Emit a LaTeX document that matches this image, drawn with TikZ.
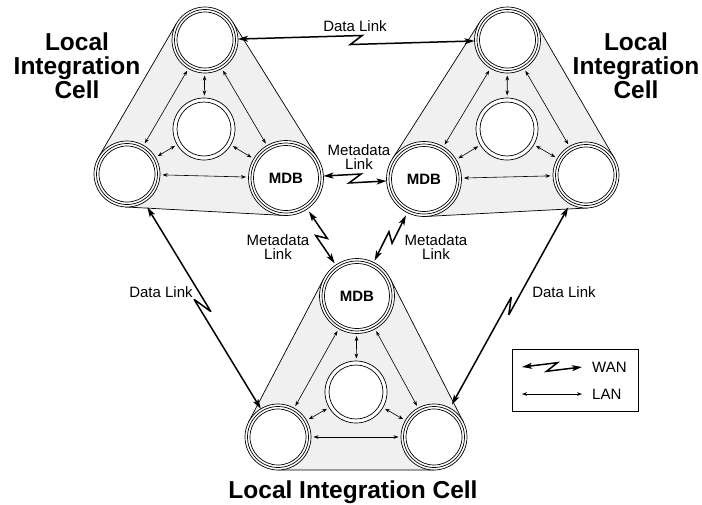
\documentclass[tikz,border=0pt]{standalone}
\usepackage{fontspec}
\setmainfont{Liberation Sans}
\usetikzlibrary{arrows.meta,calc}
\tikzset{
  hullfill/.style={fill=black!6},
  hullline/.style={line width=0.7pt},
  ring/.style={line width=0.7pt},
  nodecirc/.style={circle, inner sep=0pt, outer sep=0pt, font=\fontsize{15}{15}\selectfont\bfseries},
  lan/.style={line width=0.6pt, {Stealth[length=5pt,width=3.6pt]}-{Stealth[length=5pt,width=3.6pt]}, shorten <=2.5pt, shorten >=2.5pt},
  wan/.style={line width=1.5pt, line join=miter, miter limit=4, {Stealth[length=10pt,width=6pt,inset=2.5pt]}-{Stealth[length=10pt,width=6pt,inset=2.5pt]}},
  lbl/.style={font=\fontsize{15}{14}\selectfont, align=center, inner sep=0pt},
  biglbl/.style={font=\fontsize{24.5}{24}\selectfont\bfseries, align=center, inner sep=0pt},
}
% corner node with three rings
\newcommand\cornernode[5]{% name, x, y, outer radius, label
  \draw[ring, fill=white] (#2,#3) circle [radius=#4pt];
  \draw[ring] (#2,#3) circle [radius=#4pt-2.5pt];
  \draw[ring] (#2,#3) circle [radius=#4pt-5pt];
  \node[nodecirc, minimum size=2*#4pt] (#1) at (#2,#3) {#5};
}
% middle node with two rings
\newcommand\midnode[3]{% name, x, y
  \draw[ring, fill=white] (#2,#3) circle [radius=31pt];
  \draw[ring] (#2,#3) circle [radius=27pt];
  \node[nodecirc, minimum size=62pt] (#1) at (#2,#3) {};
}
% outer tangent of two circles (screen coordinates)
\newcommand\hullseg[7]{%
  \pgfmathsetmacro\hdx{#4-#1}%
  \pgfmathsetmacro\hdy{#5-#2}%
  \pgfmathsetmacro\hL{veclen(\hdx,\hdy)}%
  \pgfmathsetmacro\hang{atan2(\hdy,\hdx)+acos((#3-#6)/\hL)}%
  \coordinate (#7-1) at ({#1+#3*cos(\hang)},{#2+#3*sin(\hang)});%
  \coordinate (#7-2) at ({#4+#6*cos(\hang)},{#5+#6*sin(\hang)});%
}
\newcommand\hull[9]{%
  \hullseg{#1}{#2}{#3}{#4}{#5}{#6}{hA}
  \hullseg{#4}{#5}{#6}{#7}{#8}{#9}{hB}
  \hullseg{#7}{#8}{#9}{#1}{#2}{#3}{hC}
  \fill[hullfill] (hA-1)--(hA-2)--(hB-1)--(hB-2)--(hC-1)--(hC-2)--cycle;
  \draw[hullline] (hA-1)--(hA-2) (hB-1)--(hB-2) (hC-1)--(hC-2);
}
% WAN link with zigzag
\newcommand\wanlink[5][]{%
  \draw[wan,#1] (#2) -- ($(#2)!0.5!(#3)!#4pt!#5:(#3)$) -- ($(#2)!0.5!(#3)!#4pt!#5:(#2)$) -- (#3);
}
\begin{document}
\begin{tikzpicture}[x=1pt,y=-1pt]
\useasboundingbox (0,0) rectangle (702,504);

% ---- cell hulls
\hull{205}{40}{33}{127}{174}{33}{286}{178}{37.5}
\hull{507.5}{40}{33}{424}{179}{37.5}{586}{175}{33}
\hull{357}{296}{37.5}{278}{437}{33}{434}{437}{33}

% ---- nodes: top-left cell
\cornernode{T1}{205}{40}{33}{}
\midnode{M1}{204}{129}
\cornernode{L1}{127}{174}{33}{}
\cornernode{D1}{286}{178}{37.5}{MDB}
% top-right cell
\cornernode{T2}{507.5}{40}{33}{}
\midnode{M2}{507}{129}
\cornernode{D2}{424}{179}{37.5}{MDB}
\cornernode{R2}{586}{175}{33}{}
% bottom cell
\cornernode{D3}{357}{296}{37.5}{MDB}
\midnode{M3}{356}{392}
\cornernode{L3}{278}{437}{33}{}
\cornernode{R3}{434}{437}{33}{}

% ---- LAN links
\foreach \a/\b in {T1/M1,T1/L1,T1/D1,M1/L1,M1/D1,L1/D1,
                   T2/M2,T2/D2,T2/R2,M2/D2,M2/R2,D2/R2,
                   D3/M3,D3/L3,D3/R3,M3/L3,M3/R3,L3/R3}
  \draw[lan] (\a) -- (\b);

% ---- WAN links
\wanlink{T1}{T2}{7.5}{37}
\wanlink{D1}{D2}{7.5}{37}
\wanlink[shorten <=3pt, shorten >=2pt]{D1}{D3}{6}{45}
\wanlink[shorten <=2pt, shorten >=3pt]{D3}{D2}{6}{45}
\wanlink[shorten <=6pt]{L1}{L3}{10.4}{24}
\wanlink[shorten <=4pt, shorten >=4pt]{R3}{R2}{9}{22}

% ---- labels
\node[lbl] (dl1) at (355,26) {Data Link};
\node[lbl] (ml1) at (359,157) {Metadata\\Link};
\node[lbl] (ml2) at (278,247) {Metadata\\Link};
\node[lbl] (ml3) at (436,247) {Metadata\\Link};
\node[lbl] (dl2) at (161,292) {Data Link};
\node[lbl] (dl3) at (564,292) {Data Link};
\node[biglbl] (c1) at (77,66) {Local\\Integration\\Cell};
\node[biglbl] (c2) at (636,66) {Local\\Integration\\Cell};
\node[biglbl] (c3) at (353,492) {Local Integration Cell};

% ---- legend
\draw[line width=0.7pt] (512.5,349.5) rectangle (638,411);
\coordinate (w1) at (522,367);
\coordinate (w2) at (582,367);
\coordinate (l1) at (522,394);
\coordinate (l2) at (582,394);
\wanlink{w1}{w2}{7}{38}
\draw[lan, shorten <=0pt, shorten >=0pt] (l1) -- (l2);
\node[lbl, anchor=west] (wt) at (592,367) {WAN};
\node[lbl, anchor=west] (lt) at (592,394) {LAN};
\end{tikzpicture}
\end{document}
